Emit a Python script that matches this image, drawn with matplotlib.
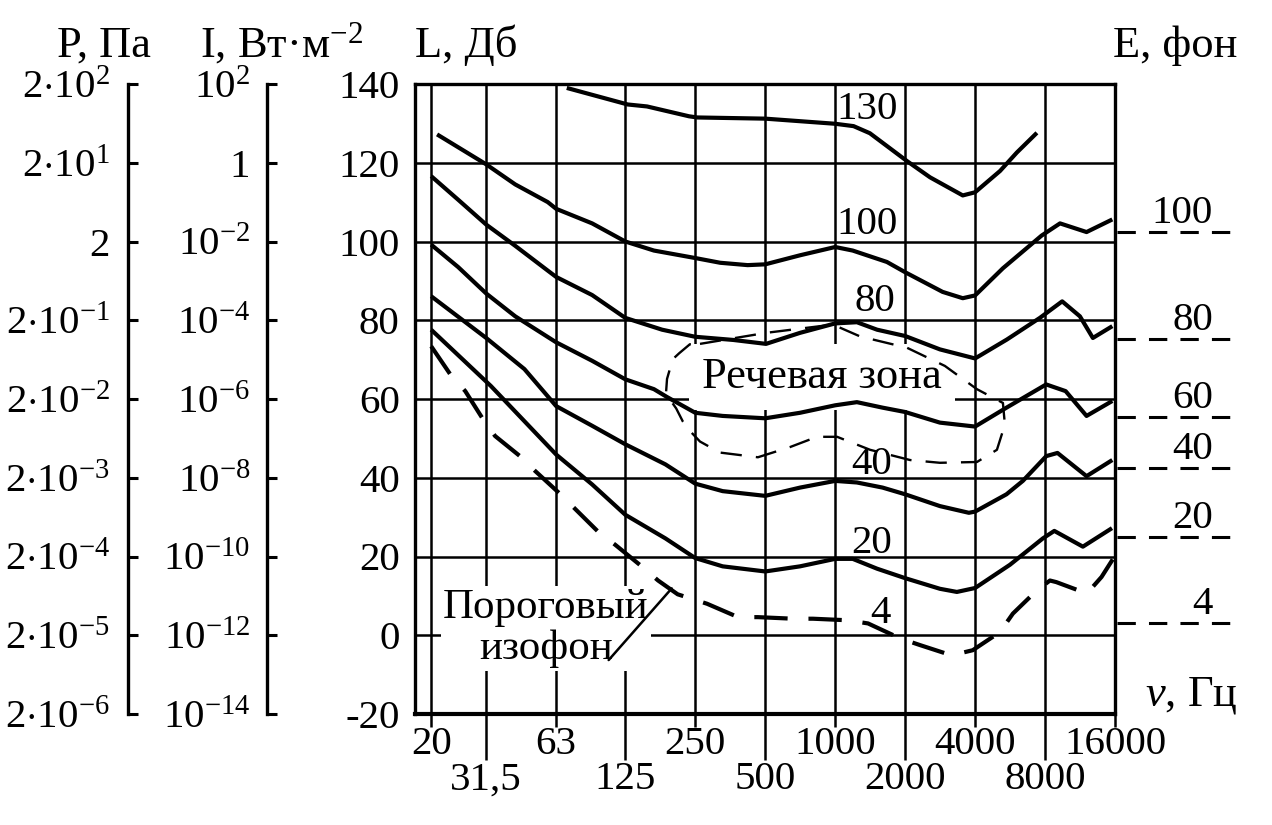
import numpy as np
import matplotlib
matplotlib.use("Agg")
import matplotlib.pyplot as plt
from matplotlib.transforms import blended_transform_factory

plt.rcParams['font.family'] = ['Liberation Serif', 'DejaVu Serif']
plt.rcParams['mathtext.fontset'] = 'custom'
plt.rcParams['mathtext.rm'] = 'Liberation Serif'
plt.rcParams['mathtext.it'] = 'Liberation Serif:italic'
plt.rcParams['font.size'] = 29.5

# frequency axis (Hz) and level axis (dB)
row1_freqs = [20, 63, 250, 1000, 4000, 16000]
row1_labels = ['20', '63', '250', '1000', '4000', '16000']
row2_freqs = [31.5, 125, 500, 2000, 8000]
row2_labels = ['31,5', '125', '500', '2000', '8000']
l_ticks = [-20, 0, 20, 40, 60, 80, 100, 120, 140]
l_labels = ['-20', '0', '20', '40', '60', '80', '100', '120', '140']
p_labels = ['$2{\\cdot}10^{-6}$', '$2{\\cdot}10^{-5}$', '$2{\\cdot}10^{-4}$', '$2{\\cdot}10^{-3}$',
            '$2{\\cdot}10^{-2}$', '$2{\\cdot}10^{-1}$', '2', '$2{\\cdot}10^{1}$', '$2{\\cdot}10^{2}$']
i_labels = ['$10^{-14}$', '$10^{-12}$', '$10^{-10}$', '$10^{-8}$', '$10^{-6}$',
            '$10^{-4}$', '$10^{-2}$', '1', '$10^{2}$']

# equal loudness curves (phon)
f130 = [70, 128, 155, 235, 255, 500, 1000, 1200, 1410, 2040, 2560, 3540, 4000, 5120, 6050, 7380]
L130 = [139, 134.8, 134.3, 131.8, 131.5, 131.2, 129.9, 129.3, 127.5, 120.4, 116.3, 111.7, 112.5, 117.9, 122.6, 127.6]

f100 = [21, 31.5, 42, 58, 63, 90, 125, 166, 250, 320, 420, 500, 706, 1000, 1190, 1670, 2000,
        2900, 3540, 4000, 5270, 7730, 9280, 12070, 15580]
L100 = [127.2, 119.6, 114.5, 110, 108.3, 104.6, 100, 97.7, 95.8, 94.6, 94.0, 94.2, 96.5, 98.6, 97.7, 94.8, 92.2,
        87.2, 85.6, 86.3, 93.2, 101.5, 104.6, 102.4, 105.6]

f80 = [20, 25, 31.5, 42, 58, 63, 90, 125, 180, 250, 364, 504, 706, 1000, 1240, 1515, 2000,
       2823, 4000, 5480, 7600, 9480, 11300, 12850, 15580]
L80 = [116.6, 110.6, 104.3, 98.9, 92.6, 91, 86.4, 80.6, 77.6, 75.8, 75, 74, 76.8, 79.2, 79.5, 77.6, 76,
       72.6, 70.3, 75.1, 80.6, 84.8, 81, 75.5, 78.5]

f60 = [20, 25, 31.5, 42, 63, 90, 125, 166, 189, 250, 328, 500, 706, 1000, 1240, 1600, 2000,
       2823, 4000, 5460, 8090, 9810, 12070, 15580]
L60 = [99.2, 93.5, 86.8, 81, 74.4, 69.7, 65, 62.5, 60.5, 56.5, 55.7, 55.1, 56.5, 58.4, 59.2, 57.8, 56.7,
       54, 53, 57.8, 63.7, 62, 55.7, 59.5]

f40 = [20, 31.5, 46, 63, 90, 125, 186, 250, 328, 500, 706, 1000, 1240, 1600, 2000, 2823,
       3760, 4000, 5460, 6420, 8100, 9050, 12070, 15580]
L40 = [86.1, 75.5, 67.6, 58.2, 53.2, 48.5, 43.4, 38.5, 36.6, 35.4, 37.5, 39.2, 38.8, 37.5, 35.8, 32.8,
       31.1, 31.4, 35.8, 39.2, 45.5, 46.3, 40.4, 44.5]

f20 = [20, 33, 63, 90, 125, 186, 250, 328, 500, 706, 1000, 1190, 1515, 2000, 2823, 3340,
       4000, 5650, 7830, 8770, 11640, 15530]
L20 = [77.6, 63.3, 45.9, 38.3, 30.6, 24.6, 19.6, 17.5, 16.2, 17.5, 19.4, 19.4, 16.9, 14.5, 11.8, 11,
       12, 17.9, 24.6, 26.5, 22.5, 27.2]

# threshold isophone (4 phon)
f_thr = [20, 23.4, 26.5, 30.6, 34.4, 44, 51.2, 65.5, 76, 97.4, 113, 147, 173, 210, 281, 382, 465,
         659, 802, 1134, 1385, 1905, 2318, 3168, 3908, 5116, 5817, 7377, 8400, 8940, 12110, 14000, 15850]
L_thr = [73.4, 66.3, 62, 55, 50.6, 45.5, 41.7, 35.9, 32.1, 25.8, 23, 17.5, 13.9, 10.4, 8, 4.6, 4.6,
         4.2, 4.2, 3.8, 3, -0.8, -2.5, -5.1, -3.8, 0.8, 5.5, 11.4, 13.9, 13.5, 10.6, 14.8, 19.8]

# speech zone outline
f_speech = [262, 504, 978, 1279, 2040, 2965, 4073, 5270, 5374, 4966, 4073, 2823, 2100, 1413, 1019,
            835, 640, 465, 319, 262, 237, 221, 207, 187, 189, 200, 213, 237, 262]
L_speech = [74.0, 76.8, 78.9, 75.9, 73.0, 68.4, 62.5, 59.0, 53.5, 47.1, 44.0, 43.8, 44.5, 47.1, 50.4,
            50.4, 47.8, 45.2, 46.4, 49.2, 51.9, 54.3, 57.6, 61.3, 65.1, 70.1, 71.6, 73.9, 74.0]

# loudness level marks on the right
e_levels = [102.3, 75.3, 55.5, 42.5, 24.9, 3.0]
e_labels = ['100', '80', '60', '40', '20', '4']


def fwd(f):
    f = np.asarray(f, dtype=float)
    p = np.log2(np.clip(f, 1e-6, None) / 31.5)
    return np.where(p < 0, p * 1.2, p)


def inv(x):
    x = np.asarray(x, dtype=float)
    return 31.5 * 2 ** np.where(x < 0, x / 1.2, x)


fig = plt.figure(figsize=(12.72, 8.25), dpi=100)
ax = fig.add_axes([415 / 1272, 111 / 825, 700 / 1272, 630 / 825])
ax.set_xscale('function', functions=(fwd, inv))
ax.set_xlim(17.5, 16000)
ax.set_ylim(-20, 140)

ax.set_xticks(row1_freqs, labels=row1_labels)
ax.set_xticks(row2_freqs, labels=row2_labels, minor=True)
ax.tick_params(axis='x', which='major', length=9, width=1.8, pad=0)
ax.tick_params(axis='x', which='minor', length=33, width=1.8, pad=1)
ax.set_yticks(l_ticks, labels=l_labels)
ax.tick_params(axis='y', length=0, pad=11)

ax.set_axisbelow(True)
ax.grid(True, which='both', axis='x', color='black', lw=1.8)
ax.grid(True, which='major', axis='y', color='black', lw=1.8)
for s in ax.spines.values():
    s.set_linewidth(2.4)
ax.spines['bottom'].set_linewidth(3)

# pressure and intensity scales
for loc, labels, pad in [(-0.41, p_labels, 13), (-0.2114, i_labels, 12)]:
    sec = ax.secondary_yaxis(loc)
    sec.set_yticks(l_ticks, labels=labels)
    sec.tick_params(direction='in', length=7, width=2.2, pad=pad)
    sec.spines['left'].set_linewidth(2.4)

# curves
lw = 3.0
for f, L in [(f130, L130), (f100, L100), (f80, L80), (f60, L60), (f40, L40), (f20, L20)]:
    ax.plot(f, L, color='black', lw=lw, zorder=4, solid_joinstyle='round', solid_capstyle='butt')
ax.plot(f_thr, L_thr, color='black', lw=lw, ls=(0, (8, 5)), zorder=4)
ax.plot(f_speech, L_speech, color='black', lw=1.7, ls=(0, (9, 6)), zorder=4)

# curve labels
for x, y, s in [(1370, 131.1, '130'), (1370, 102, '100'), (1485, 82.3, '80'),
                (1441, 41, '40'), (1431, 21, '20'), (1560, 3.0, '4')]:
    ax.text(x, y, s, ha='center', va='baseline', zorder=5)

ax.text(878, 62.8, 'Речевая зона', ha='center', va='baseline', zorder=3, fontsize=32,
        bbox=dict(boxstyle='square,pad=0.3', fc='white', ec='none'))
ax.text(57, 1.8, 'Пороговый\nизофон', ha='center', va='center', zorder=3, linespacing=1.1,
        fontsize=31, bbox=dict(boxstyle='square,pad=0.06', fc='white', ec='none'))
ax.annotate('', xy=(198, 11.9), xytext=(106, -6.3),
            arrowprops=dict(arrowstyle='-', lw=1.8, color='black', shrinkA=0, shrinkB=0), zorder=5)

# E scale on the right
trans = blended_transform_factory(ax.transAxes, ax.transData)
for lvl, lab in zip(e_levels, e_labels):
    ax.plot([1.003, 1.167], [lvl, lvl], transform=trans, color='black', lw=2.2,
            ls=(0, (6, 4.3)), clip_on=False)
    ax.text(1.14, lvl, lab, transform=trans, ha='right', va='bottom', clip_on=False)


def fx(px):
    return px / 1272


def fy(py):
    return 1 - py / 825


fig.text(fx(57), fy(57), 'P, Па', ha='left', va='baseline', fontsize=32)
fig.text(fx(200), fy(57), 'I, Вт·м$^{-2}$', ha='left', va='baseline', fontsize=32)
fig.text(fx(415), fy(57), 'L, Дб', ha='left', va='baseline', fontsize=32)
fig.text(fx(1113), fy(57), 'E, фон', ha='left', va='baseline', fontsize=32)
fig.text(fx(1145), fy(705), '$\\nu$, Гц', ha='left', va='baseline', fontsize=32)

fig.savefig('out.png', dpi=100, facecolor='white')
